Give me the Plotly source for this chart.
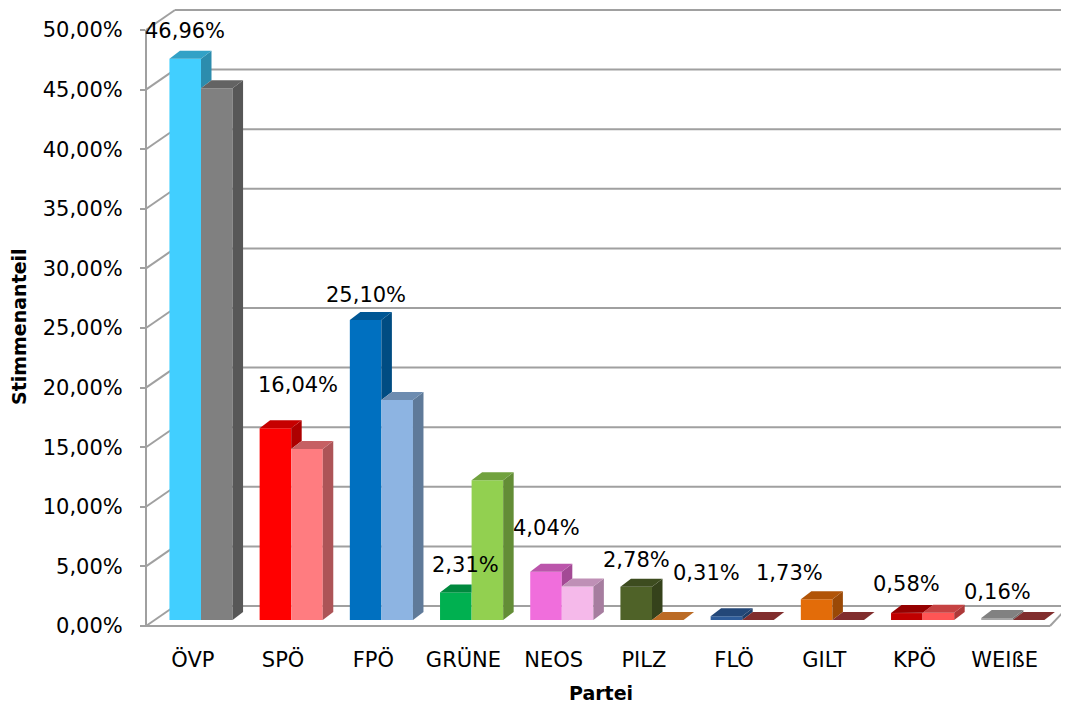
import plotly.graph_objects as go

# ---------------- data ----------------
categories = ["ÖVP", "SPÖ", "FPÖ", "GRÜNE", "NEOS", "PILZ", "FLÖ", "GILT", "KPÖ", "WEIßE"]
share_a = [46.96, 16.04, 25.10, 2.31, 4.04, 2.78, 0.31, 1.73, 0.58, 0.16]
share_b = [44.5, 14.3, 18.4, 11.7, 2.8, 0.0, 0.0, 0.0, 0.6, 0.0]
tick_values = [0, 5, 10, 15, 20, 25, 30, 35, 40, 45, 50]
tick_labels = [("%.2f" % v).replace(".", ",") + "%" for v in tick_values]

# ---------------- styles ----------------
colors_a = ["#41CFFF", "#FF0000", "#0070C0", "#00B050", "#F06EDC",
            "#4F6228", "#2E5C9A", "#E36C09", "#C00000", "#A6A6A6"]
colors_b = ["#808080", "#FF7C80", "#8DB4E2", "#92D050", "#F5B9EA",
            "#F08A30", "#A63C3C", "#A63C3C", "#FF5555", "#A63C3C"]
label_dx = [0, 23, 0, 10, 0, 0, -20, -27, 0, 0]      # px
label_dy = [28, 43, 25, 27, 44, 27, 43, 26, 29, 26]  # px

OFF = 8                        # page body margin
W, H = 1069 - 2 * OFF, 714 - 2 * OFF
# plot area in page pixel coordinates
PL, PR, PT, PB = 146, 1069 - OFF, OFF, 626
X0, XS = 201.0, 90.2          # px of first category centre, px per category
BASE, YS = 620.0, 11.95       # bar base px, px per %
FBASE, FYS = 626.0, 11.92     # front axis base px, px per %
WDX, WDY = 29, 20             # wall depth offset px
BDX, BDY = 10.5, 8.0          # bar depth offset px
BW = 0.35                     # bar width (category units)
GRID = "#a0a0a0"
FONT = "DejaVu Sans"

xr = [(PL - X0) / XS, (PR - X0) / XS]
yr = [-(PB - BASE) / YS, (BASE - PT) / YS]
y2r = [-(PB - FBASE) / FYS, (FBASE - PT) / FYS]
dxd, dyd = BDX / XS, BDY / YS


def fx(px):
    return (px - PL) / (PR - PL)


def fy(py):
    return (PB - py) / (PB - PT)


def shade(hexc, f):
    h = hexc.lstrip("#")
    r, g, b = (int(h[i:i + 2], 16) for i in (0, 2, 4))
    return "rgb(%d,%d,%d)" % (r * f, g * f, b * f)


fig = go.Figure()
idx = list(range(len(categories)))

# front faces
fig.add_trace(go.Bar(x=idx, y=share_a, offset=-BW, width=BW, base=0,
                     marker=dict(color=colors_a, line=dict(width=0)),
                     hoverinfo="skip", showlegend=False))
fig.add_trace(go.Bar(x=idx, y=share_b, offset=0, width=BW, base=0,
                     marker=dict(color=colors_b, line=dict(width=0)),
                     hoverinfo="skip", showlegend=False))


def poly(xs, ys, color):
    fig.add_trace(go.Scatter(x=xs + [xs[0]], y=ys + [ys[0]], mode="lines",
                             fill="toself", fillcolor=color,
                             line=dict(width=0, color=color),
                             hoverinfo="skip", showlegend=False))


# side and top faces
for i in idx:
    va, vb = share_a[i], share_b[i]
    x0, x1 = i - BW, i
    if vb < va:
        poly([x1, x1, x1 + dxd, x1 + dxd], [vb, va, va + dyd, vb + dyd], shade(colors_a[i], 0.68))
    v2c = min(max(vb, va), va + dyd)
    xa = x1 + (v2c - va) / dyd * dxd
    poly([x0, x1, x1, xa, x1 + dxd, x0 + dxd],
         [va, va, v2c, v2c, va + dyd, va + dyd], shade(colors_a[i], 0.78))
    x0, x1 = i, i + BW
    poly([x1, x1, x1 + dxd, x1 + dxd], [0, vb, vb + dyd, dyd], shade(colors_b[i], 0.68))
    poly([x0, x1, x1 + dxd, x0 + dxd], [vb, vb, vb + dyd, vb + dyd], shade(colors_b[i], 0.78))

# tick axis (front edge of the 3D wall)
fig.add_trace(go.Scatter(x=[None], y=[None], yaxis="y2", showlegend=False, hoverinfo="skip"))

# walls / gridlines
shapes = []
line = dict(color=GRID, width=2)
for v in tick_values:
    yf = FBASE - v * FYS
    yb = yf - WDY
    shapes.append(dict(type="line", xref="paper", yref="paper", x0=fx(PL + WDX), x1=fx(PR),
                       y0=fy(yb), y1=fy(yb), line=line, layer="below"))
    shapes.append(dict(type="line", xref="paper", yref="paper", x0=fx(PL), x1=fx(PL + WDX),
                       y0=fy(yf), y1=fy(yb), line=line, layer="below"))
top_front = FBASE - tick_values[-1] * FYS
shapes.append(dict(type="line", xref="paper", yref="paper", x0=fx(PL), x1=fx(PL),
                   y0=fy(top_front), y1=fy(FBASE), line=line, layer="below"))
shapes.append(dict(type="line", xref="paper", yref="paper", x0=fx(PL - 5), x1=fx(1050),
                   y0=fy(FBASE), y1=fy(FBASE), line=line, layer="below"))
shapes.append(dict(type="line", xref="paper", yref="paper", x0=fx(1050), x1=fx(1050 + 19),
                   y0=fy(FBASE), y1=fy(FBASE - WDY), line=line, layer="below"))

# data labels
annotations = []
for i in idx:
    txt = ("%.2f" % share_a[i]).replace(".", ",") + "%"
    annotations.append(dict(x=i - BW / 2, y=share_a[i], xref="x", yref="y", text=txt,
                            showarrow=False, xshift=label_dx[i], yshift=label_dy[i],
                            xanchor="center", yanchor="middle",
                            font=dict(family=FONT, size=21, color="#000000")))
annotations.append(dict(x=fx(19), y=fy(327), xref="paper", yref="paper", text="<b>Stimmenanteil</b>",
                        textangle=-90, showarrow=False, xanchor="center", yanchor="middle",
                        font=dict(family=FONT, size=19, color="#000000")))
annotations.append(dict(x=fx(601), y=fy(H + OFF - 1), xref="paper", yref="paper", text="<b>Partei</b>",
                        showarrow=False, xanchor="center", yanchor="bottom", borderpad=0,
                        font=dict(family=FONT, size=19, color="#000000")))

fig.update_layout(
    width=W, height=H,
    margin=dict(l=PL - OFF, r=(W + OFF) - PR, t=PT - OFF, b=(H + OFF) - PB, pad=0, autoexpand=False),
    plot_bgcolor="white", paper_bgcolor="white",
    barmode="overlay",
    showlegend=False, hovermode=False,
    shapes=shapes, annotations=annotations,
    xaxis=dict(range=xr, tickmode="array", tickvals=[i - 0.09 for i in idx], ticktext=categories,
               showgrid=False, zeroline=False, showline=False, ticks="",
               ticklabelstandoff=19, tickfont=dict(family=FONT, size=21, color="#000000")),
    yaxis=dict(range=yr, showgrid=False, zeroline=False, showline=False,
               showticklabels=False, ticks=""),
    yaxis2=dict(range=y2r, overlaying="y", side="left", anchor="x",
                tickmode="array", tickvals=tick_values, ticktext=tick_labels,
                showgrid=False, zeroline=False, showline=False,
                ticks="outside", ticklen=5, tickwidth=2, tickcolor=GRID,
                ticklabelstandoff=13, tickfont=dict(family=FONT, size=21, color="#000000")),
)

fig.write_html("out.html")
